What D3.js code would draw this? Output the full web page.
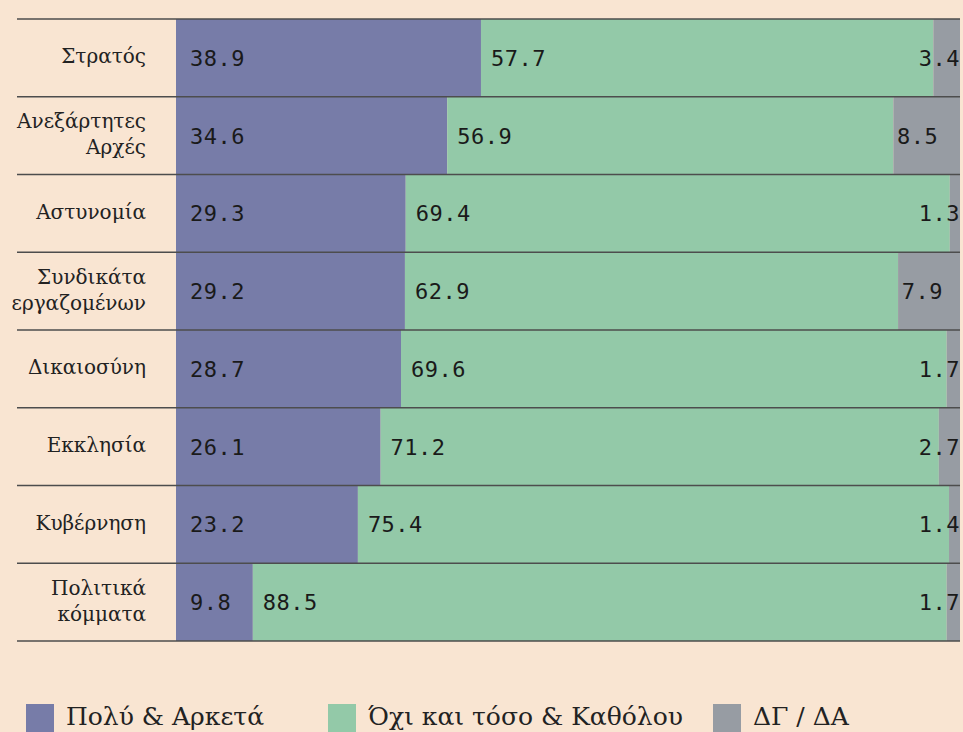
<!DOCTYPE html>
<html>
<head>
<meta charset="utf-8">
<script src="https://cdn.jsdelivr.net/npm/d3@7"></script>
<style>
  html, body { margin: 0; padding: 0; background: #f9e5d2; }
  svg { display: block; }
</style>
</head>
<body>
<div id="chart"></div>
<script>
// institutions, top to bottom (lines split on \n)
let institutions = ['Στρατός', 'Ανεξάρτητες\nΑρχές', 'Αστυνομία', 'Συνδικάτα\nεργαζομένων',
    'Δικαιοσύνη', 'Εκκλησία', 'Κυβέρνηση', 'Πολιτικά\nκόμματα'];
let muchValues = [38.9, 34.6, 29.3, 29.2, 28.7, 26.1, 23.2, 9.8];
let notValues = [57.7, 56.9, 69.4, 62.9, 69.6, 71.2, 75.4, 88.5];
let dkValues = [3.4, 8.5, 1.3, 7.9, 1.7, 2.7, 1.4, 1.7];
let seriesNames = ['Πολύ & Αρκετά', 'Όχι και τόσο & Καθόλου', 'ΔΓ / ΔΑ'];
let seriesColors = ['#777ca8', '#93c9a8', '#979ca3'];

(function () {
    let width = 963, height = 732,
        left = 176, right = 960, top = 19, bottom = 641,
        lineStart = 17;

    let rows = institutions.map((name, i) => ({
        name: name, s0: muchValues[i], s1: notValues[i], s2: dkValues[i]
    }));

    let svg = d3.select('#chart').append('svg')
        .attr('width', width)
        .attr('height', height);

    let x = d3.scaleLinear().domain([0, 100]).range([left, right]);
    let y = d3.scaleBand().domain(institutions).range([top, bottom]).padding(0);

    let stack = d3.stack().keys(['s0', 's1', 's2']);
    let layers = stack(rows);

    let g = svg.append('g');

    layers.forEach((layer, k) => {
        g.append('g').selectAll('rect')
            .data(layer)
            .enter().append('rect')
            .attr('x', d => x(d[0]))
            .attr('y', d => y(d.data.name))
            .attr('width', d => x(d[1]) - x(d[0]))
            .attr('height', y.bandwidth())
            .attr('fill', seriesColors[k]);
    });

    // value labels
    layers.forEach((layer, k) => {
        g.append('g').selectAll('text')
            .data(layer)
            .enter().append('text')
            .attr('x', d => {
                if (k === 0) return x(d[0]) + 14;
                if (k === 1) return x(d[0]) + 10;
                return Math.min(x(d[0]) + 45, right);
            })
            .attr('y', d => y(d.data.name) + y.bandwidth() / 2 + 2)
            .attr('text-anchor', k === 2 ? 'end' : 'start')
            .attr('dominant-baseline', 'middle')
            .style('font-family', '"DejaVu Sans Mono", monospace')
            .style('font-size', '22px')
            .style('letter-spacing', '0.5px')
            .style('fill', '#1a1a1a')
            .text(d => (d[1] - d[0]).toFixed(1));
    });

    // row separators
    let edges = institutions.map(n => y(n)).concat([bottom]);
    svg.append('g').selectAll('line')
        .data(edges)
        .enter().append('line')
        .attr('x1', lineStart)
        .attr('x2', right)
        .attr('y1', d => d)
        .attr('y2', d => d)
        .style('stroke', '#4d4d4d')
        .style('stroke-width', 1.5);

    // category labels
    let labels = svg.append('g').selectAll('text')
        .data(institutions)
        .enter().append('text')
        .attr('text-anchor', 'end')
        .style('font-family', '"DejaVu Serif", serif')
        .style('font-size', '20px')
        .style('fill', '#222');

    labels.each(function (d) {
        let parts = d.split('\n'),
            cy = y(d) + y.bandwidth() / 2,
            lh = 26,
            y0 = cy - (parts.length - 1) * lh / 2;
        parts.forEach((p, i) => {
            d3.select(this).append('tspan')
                .attr('x', 146)
                .attr('y', y0 + i * lh)
                .attr('dominant-baseline', 'middle')
                .text(p);
        });
    });

    // legend
    let legendX = [26, 328, 713];
    let legend = svg.append('g').selectAll('g')
        .data(seriesNames)
        .enter().append('g')
        .attr('transform', (d, i) => 'translate(' + legendX[i] + ',704)');

    legend.append('rect')
        .attr('width', 28)
        .attr('height', 28)
        .attr('fill', (d, i) => seriesColors[i]);

    legend.append('text')
        .attr('x', 40)
        .attr('y', 21)
        .style('font-family', '"DejaVu Serif", serif')
        .style('font-size', '25px')
        .style('fill', '#222')
        .text(d => d);
})();
</script>
</body>
</html>
